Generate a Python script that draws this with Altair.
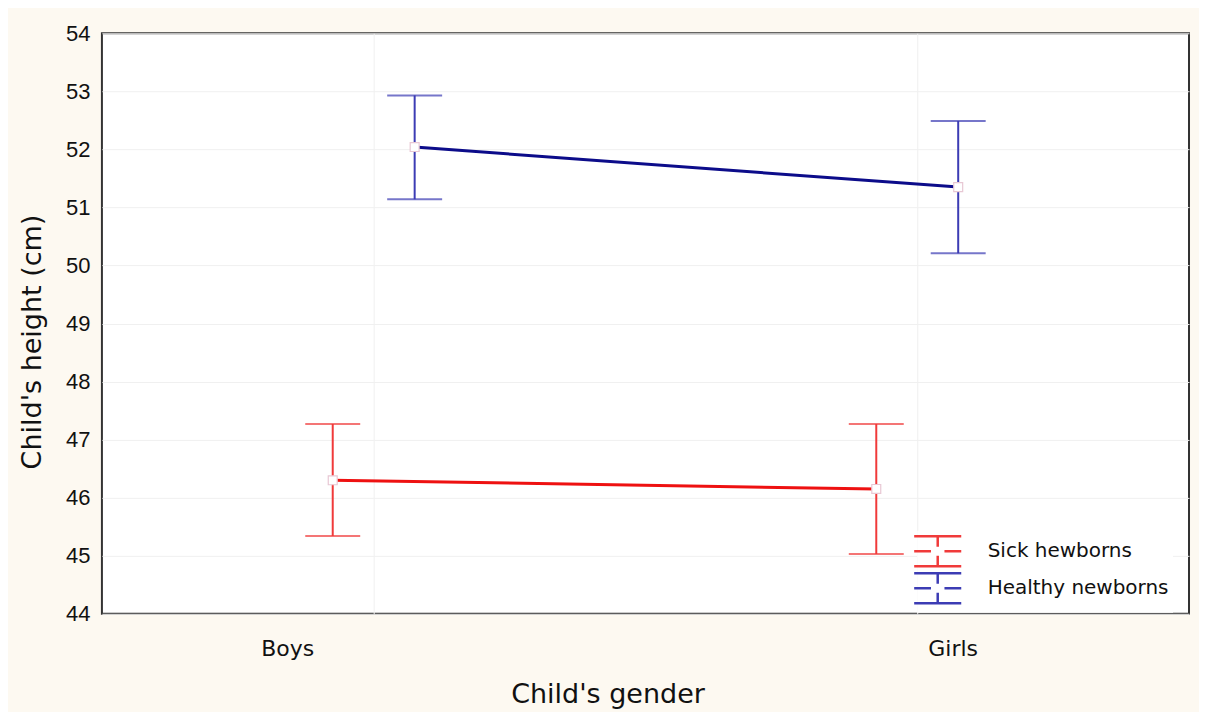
import altair as alt
import pandas as pd

genders = ["Boys", "Girls"]
groups = ["Sick hewborns", "Healthy newborns"]
sick_mean = [46.30, 46.15]
sick_low = [45.34, 45.03]
sick_high = [47.27, 47.27]
healthy_mean = [52.04, 51.35]
healthy_low = [51.14, 50.21]
healthy_high = [52.93, 52.49]
y_ticks = [44, 45, 46, 47, 48, 49, 50, 51, 52, 53, 54]

bar_colors = ["#f03a3a", "#3c3cb4"]
line_colors = ["#ee1111", "#0c0c8a"]

rows = []
for i, g in enumerate(genders):
    rows.append(dict(gender=g, group=groups[0], mean=sick_mean[i], low=sick_low[i], high=sick_high[i]))
    rows.append(dict(gender=g, group=groups[1], mean=healthy_mean[i], low=healthy_low[i], high=healthy_high[i]))
df = pd.DataFrame(rows)

W, H = 1088, 581

x_enc = alt.X(
    "gender:N", sort=genders,
    scale=alt.Scale(type="band", paddingInner=0, paddingOuter=0),
    axis=alt.Axis(
        title="Child's gender", ticks=False, domain=False, grid=True,
        gridColor="#f0f0f0", gridWidth=1, bandPosition=0.5,
        labelAngle=0, labelFont="DejaVu Sans", labelFontSize=22, labelColor="#111",
        labelBaseline="alphabetic", labelPadding=42,
        labelOffset={"condition": {"test": "datum.value == 'Boys'", "value": -86}, "value": 36},
        titleFont="DejaVu Sans", titleFontSize=27, titleFontWeight="normal", titleColor="#111",
        titleBaseline="alphabetic", titleX=506, titleY=89,
    ),
)
xo_enc = alt.XOffset("group:N", sort=groups, scale=alt.Scale(type="point", padding=0, range=[231, 313]))
y_scale = alt.Scale(domain=[44, 54], nice=False, zero=False)
y_axis = alt.Axis(
    title="Child's height (cm)", values=y_ticks, format="d", ticks=False, domain=False,
    grid=True, gridColor="#f0f0f0", gridWidth=1,
    labelFont="Liberation Sans", labelFontSize=22, labelColor="#111", labelPadding=12,
    titleFont="DejaVu Sans", titleFontSize=27, titleFontWeight="normal", titleColor="#111",
    titleBaseline="alphabetic", titleX=-61, titleY=308.5, titleAngle=270,
)

legend_path = "M-1.57,-1H1.57M-1.57,1H1.57M0,-1V-0.3M0,0.3V1M-1.57,0H-0.45M0.45,0H1.57"

base = alt.Chart(df)

rules = base.mark_rule(strokeWidth=2).encode(
    x=x_enc, xOffset=xo_enc,
    y=alt.Y("low:Q", scale=y_scale, axis=y_axis), y2="high:Q",
    color=alt.Color(
        "group:N", sort=groups,
        scale=alt.Scale(domain=groups, range=bar_colors),
        legend=alt.Legend(
            title=None, orient="none", legendX=816, legendY=498,
            symbolType=legend_path, symbolSize=900, symbolStrokeWidth=2.5,
            symbolFillColor="transparent",
            labelFont="DejaVu Sans", labelFontSize=20, labelColor="#111",
            labelOffset=33.5, labelLimit=400, rowPadding=-13, fillColor="white", padding=4,
        ),
    ),
)

caps_low = base.mark_tick(size=55, thickness=2).encode(
    x=x_enc, xOffset=xo_enc, y=alt.Y("low:Q", scale=y_scale),
    color=alt.Color("group:N", sort=groups, scale=alt.Scale(domain=groups, range=bar_colors), legend=None),
)
caps_high = base.mark_tick(size=55, thickness=2).encode(
    x=x_enc, xOffset=xo_enc, y=alt.Y("high:Q", scale=y_scale),
    color=alt.Color("group:N", sort=groups, scale=alt.Scale(domain=groups, range=bar_colors), legend=None),
)

lines = base.mark_line(strokeWidth=3).encode(
    x=x_enc, xOffset=xo_enc, y=alt.Y("mean:Q", scale=y_scale),
    detail="group:N",
    order=alt.Order("gender:N"),
    color=alt.Color("group:N", sort=groups, scale=alt.Scale(domain=groups, range=line_colors), legend=None),
)

points = base.mark_square(size=80, filled=True, color="white", stroke="#e8c8d4", strokeWidth=1.2, opacity=1).encode(
    x=x_enc, xOffset=xo_enc, y=alt.Y("mean:Q", scale=y_scale),
)

chart = alt.layer(
    rules, caps_low, caps_high, lines, points
).resolve_scale(color="independent").properties(
    width=W, height=H,
    autosize=alt.AutoSizeParams(type="none"),
    padding={"left": 94, "top": 25, "right": 10, "bottom": 98},
    background="#fdf9f1",
).configure_view(
    fill="white", stroke="#333333", strokeWidth=2,
)

chart.save("out.html", embed_options={"renderer": "svg", "actions": False})
